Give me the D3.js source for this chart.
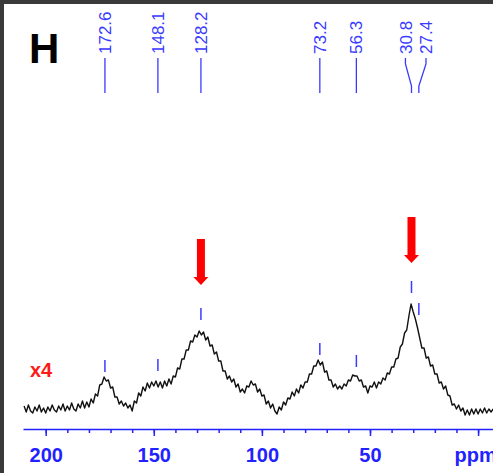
<!DOCTYPE html>
<html>
<head>
<meta charset="utf-8">
<script src="https://cdn.jsdelivr.net/npm/d3@7"></script>
<style>
  html, body { margin: 0; padding: 0; background: #fff; }
  svg { display: block; }
  text { font-family: Arial, "Liberation Sans", sans-serif; }
</style>
</head>
<body>
<svg id="chart" width="493" height="473"></svg>
<script>
// 13C CP/MAS spectrum, sampled every 1 ppm from 210 ppm down to -7 ppm
const ppmStart = 210;
const ppmStep = -1;
const intensity = [
  9, 3, 10, 4, 2, 8, 4, 10, 3, 7,          // 210 .. 201
  2, 8, 4, 10, 5, 3, 9, 5, 11, 4,          // 200 .. 191
  9, 5, 12, 6, 4, 11, 7, 14, 7, 13,        // 190 .. 181
  8, 16, 12, 21, 19, 30, 31, 38, 34, 35,   // 180 .. 171
  27, 28, 18, 18, 11, 14, 9, 12, 7, 10,    // 170 .. 161
  4, 14, 12, 22, 19, 28, 24, 32, 27, 33,   // 160 .. 151
  29, 34, 28, 33, 27, 34, 29, 36, 31, 39,  // 150 .. 141
  38, 47, 46, 56, 56, 65, 65, 74, 73, 80,  // 140 .. 131
  78, 84, 80, 83, 75, 78, 69, 70, 61, 63,  // 130 .. 121
  54, 54, 44, 44, 36, 39, 33, 36, 28, 31,  // 120 .. 111
  23, 26, 22, 29, 28, 34, 30, 31, 23, 26,  // 110 .. 101
  19, 20, 11, 14, 7, 11, 4, 1, 8, 5,       // 100 .. 91
  13, 10, 17, 16, 23, 19, 26, 22, 30, 27,  // 90 .. 81
  33, 33, 41, 41, 49, 49, 55, 50, 53, 43,  // 80 .. 71
  44, 35, 35, 28, 31, 26, 29, 26, 31, 29,  // 70 .. 61
  35, 34, 40, 39, 39, 34, 35, 28, 29, 22,  // 60 .. 51
  29, 28, 33, 27, 33, 31, 37, 35, 42, 41,  // 50 .. 41
  48, 48, 56, 57, 68, 71, 82, 85, 99, 111, // 40 .. 31
  103, 96, 87, 77, 67, 67, 57, 58, 49, 50, // 30 .. 21
  41, 41, 32, 33, 26, 29, 20, 19, 10, 11,  // 20 .. 11
  6, 10, 4, 7, 0, 5, 0, 6, 1, 6,           // 10 .. 1
  1, 6, 2, 7, 2, 6, 3, 6                   // 0 .. -7
];

// assigned peaks: shift, label text, label position, marker top level
const peakShifts = [172.6, 148.1, 128.2, 73.2, 56.3, 30.8, 27.4];
const peakLabels = ["172.6", "148.1", "128.2", "73.2", "56.3", "30.8", "27.4"];
const labelShifts = [172.6, 148.1, 128.2, 73.2, 56.3, 33.6, 24.1];
const markerTop = [55, 56, 107, 72, 60, 134, 112];

// highlighted resonances
const arrowShifts = [128.2, 30.8];
const arrowTip = [130, 152];

const majorTicks = [200, 150, 100, 50, 0];
const tickLabels = ["200", "150", "100", "50", "ppm"];
const panelLetter = "H";
const scaleNote = "x4";

const svg = d3.select("#chart");
const W = 493, H = 473;

const x = d3.scaleLinear().domain([210.5, -6.9]).range([23, 493]);
const y = d3.scaleLinear().domain([0, 100]).range([415, 315]);

const points = intensity.map((v, i) => [ppmStart + i * ppmStep, v]);

// frame edges
svg.append("rect").attr("x", 0).attr("y", 0).attr("width", W).attr("height", 4).attr("fill", "#3a3a3a");
svg.append("rect").attr("x", 0).attr("y", 0).attr("width", 4).attr("height", H).attr("fill", "#3a3a3a");

// spectrum trace
svg.append("path")
  .datum(points)
  .attr("fill", "none")
  .attr("stroke", "#111")
  .attr("stroke-width", 1.4)
  .attr("stroke-linejoin", "round")
  .attr("d", d3.line().x(d => x(d[0])).y(d => y(d[1])));

// ppm axis: minor then major ticks
const axisY = 429;
const minorTicks = d3.range(200, -1, -10);
svg.append("g")
  .attr("transform", `translate(0,${axisY})`)
  .call(d3.axisBottom(x).tickValues(minorTicks).tickSize(4).tickSizeOuter(0).tickFormat(""))
  .call(g => g.selectAll("path,line").attr("stroke", "#2222ff").attr("stroke-width", 1.5));

const majorAxis = svg.append("g")
  .attr("transform", `translate(0,${axisY})`)
  .call(d3.axisBottom(x).tickValues(majorTicks).tickSize(7).tickSizeOuter(0).tickPadding(12)
    .tickFormat((d, i) => tickLabels[i]));
majorAxis.select(".domain").remove();
majorAxis.selectAll("line").attr("stroke", "#2222ff").attr("stroke-width", 1.5);
majorAxis.selectAll("text")
  .attr("fill", "#2222ff")
  .attr("font-size", 20)
  .attr("font-weight", "bold")
  .attr("font-family", "Arial, 'Liberation Sans', sans-serif")
  .attr("dy", "0.72em");
majorAxis.selectAll("text").filter((d, i) => i === tickLabels.length - 1).attr("dx", -3);

// peak labels with leaders
const lead = svg.append("g").attr("fill", "none").attr("stroke", "#3a3aff").attr("stroke-width", 1.3);
peakShifts.forEach((p, i) => {
  const lx = x(labelShifts[i]), px = x(p);
  const path = d3.path();
  path.moveTo(lx, 58);
  if (Math.abs(lx - px) < 0.5) {
    path.lineTo(px, 93);
  } else {
    path.lineTo(lx, 64);
    path.lineTo(px, 86);
    path.lineTo(px, 93);
  }
  lead.append("path").attr("d", path.toString());

  svg.append("text")
    .attr("transform", `translate(${lx},54) rotate(-90)`)
    .attr("dy", "0.36em")
    .attr("font-size", 17)
    .attr("fill", "#3a3aff")
    .text(peakLabels[i]);

  // short marker above the resonance
  svg.append("line")
    .attr("x1", px).attr("x2", px)
    .attr("y1", y(markerTop[i])).attr("y2", y(markerTop[i]) + 12)
    .attr("stroke", "#3a3aff").attr("stroke-width", 1.5);
});

// red arrows
arrowShifts.forEach((p, i) => {
  const ax = x(p), tip = y(arrowTip[i]);
  const shaft = 4, head = 7.5, headLen = 8, len = 46;
  svg.append("path")
    .attr("fill", "#ff0000")
    .attr("d", `M${ax - shaft},${tip - len} H${ax + shaft} V${tip - headLen} H${ax + head} L${ax},${tip} L${ax - head},${tip - headLen} H${ax - shaft} Z`);
});

// panel letter and vertical scale note
svg.append("text").attr("x", 29).attr("y", 63)
  .attr("font-size", 42).attr("font-weight", "bold").attr("fill", "#000")
  .text(panelLetter);
svg.append("text").attr("x", 30).attr("y", 377)
  .attr("font-size", 20).attr("font-weight", "bold").attr("fill", "#ff1a1a")
  .text(scaleNote);
</script>
</body>
</html>
